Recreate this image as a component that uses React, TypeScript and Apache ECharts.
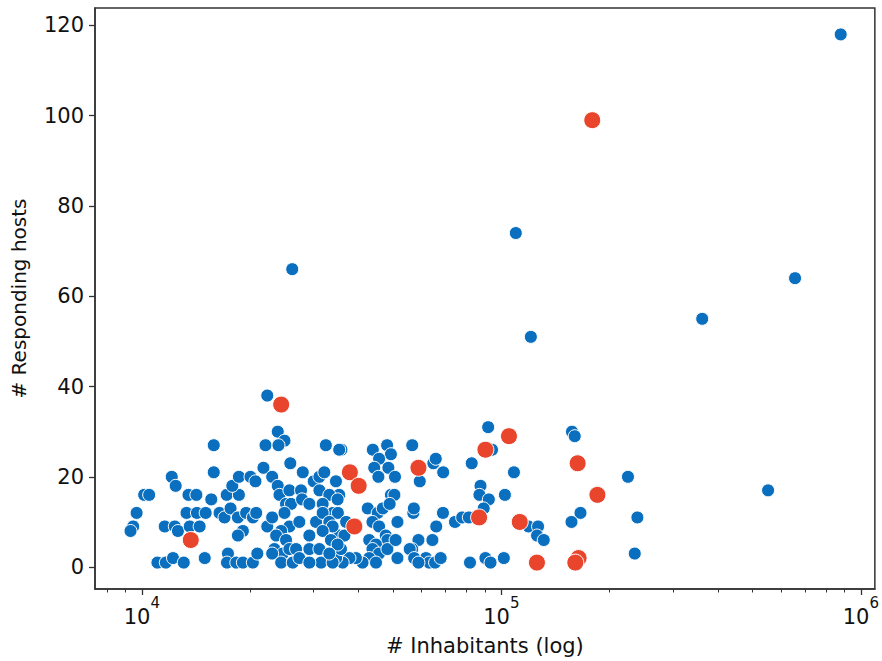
import React, { useEffect, useRef } from "react";
import * as echarts from "echarts";

const bluePopulation = [
  879000, 109700, 26200, 120800, 362000, 656000, 552000,
  157200, 160000, 225000, 166000, 156700, 239000, 235000,
  91900, 94200, 35900, 43900, 48100, 49300, 45700, 44300, 48500, 45500, 50600, 56500, 59300, 64700, 65700, 68900,
  82700, 108400, 87500, 86900, 92300, 102300, 89300, 74300, 77800, 81200, 119000, 126500, 125700, 131200,
  81800, 90300, 93300, 101600, 68800, 65900, 64300, 58800, 56500, 55600, 61700, 63000, 65400, 67800, 57200, 58800,
  51400, 49300, 56900, 57100, 42500, 45300, 46800, 43800, 45700, 47700, 48200, 42900, 44800, 43800, 45700, 48200,
  50800, 51400, 42900, 44800, 41100, 39400, 37800, 36200, 34700, 50400, 48900, 35400, 34000, 35100, 35400, 37000,
  35800, 36600,
  22330, 23880, 24930, 22080, 23990, 15850, 32500, 35400, 15850, 12110, 12420, 10150, 10480, 9670, 9460, 9300,
  11580, 12350, 12600, 11050, 11660, 12210, 13080, 14960, 13310, 14230, 15050, 13480, 14180, 13590, 14480, 15600,
  16450, 16980, 17650, 17220, 18620, 17850, 18620, 20050, 20700, 21790, 23040, 18500, 19500, 20370, 20800, 19100,
  18500, 17360, 17250, 18310, 19100, 20360, 20950, 22330, 23040, 23880, 24150, 25730, 25180, 26000, 27720, 27900,
  29240, 25880, 28030, 30070, 31180, 32180, 34670, 31180, 33230, 31840, 35040, 24930, 25730, 27420, 24410, 23640,
  25180, 23380, 24660, 25730, 26850, 23040, 24410, 26290, 27420, 29240, 29240, 31180, 30520, 31840, 33230, 33940,
  31840, 33570, 35040, 31520, 33940, 33230, 29240,
];
const blueHosts = [
  118, 74, 66, 51, 55, 64, 17,
  30, 29, 20, 12, 10, 11, 3,
  31, 26, 26, 26, 27, 25, 24, 22, 22, 20, 20, 27, 19, 23, 24, 21,
  23, 21, 18, 16, 15, 16, 13, 10, 11, 11, 9, 9, 7, 6,
  1, 2, 1, 2, 12, 9, 6, 6, 4, 4, 2, 1, 1, 2, 2, 1,
  10, 16, 12, 13, 13, 12, 13, 10, 9, 7, 6, 6, 5, 4, 3, 4,
  6, 2, 2, 1, 1, 2, 2, 1, 2, 16, 14, 16, 12, 12, 7, 10,
  4, 7,
  38, 30, 28, 27, 27, 27, 27, 26, 21, 20, 18, 16, 16, 12, 9, 8,
  9, 9, 8, 1, 1, 2, 1, 2, 12, 12, 12, 16, 16, 9, 9, 15,
  12, 11, 13, 16, 16, 18, 20, 20, 19, 22, 20, 11, 12, 11, 12, 8,
  7, 3, 1, 1, 1, 1, 3, 9, 11, 18, 16, 17, 14, 14, 17, 15,
  14, 23, 21, 19, 20, 21, 19, 17, 16, 14, 15, 12, 9, 10, 8, 7,
  6, 4, 3, 4, 4, 3, 1, 1, 2, 7, 4, 4, 10, 12, 10, 9,
  8, 6, 5, 1, 1, 3, 1,
];
const redPopulation = [13680, 24410, 37900, 40100, 39000, 58800, 90300, 105000, 86700, 112500, 125600, 163000, 185000, 164000, 160600, 179000];
const redHosts = [6, 36, 21, 18, 9, 22, 26, 29, 11, 10, 1, 23, 16, 2, 1, 99];

const yTickValues = [0, 20, 40, 60, 80, 100, 120];
const xMajorTickValues = [10000, 100000, 1000000];
const xMinorTickValues = [
  8000, 9000, 20000, 30000, 40000, 50000, 60000, 70000, 80000, 90000,
  200000, 300000, 400000, 500000, 600000, 700000, 800000, 900000,
];

const X_MIN = 7408;
const X_MAX = 1093700;
const Y_MIN = -4.85;
const Y_MAX = 123.85;

const FONT = "DejaVu Sans";
const AXIS_COLOR = "#333333";
const BLUE = "#0a6fbf";
const RED = "#e8452c";

export default function App() {
  const ref = useRef<HTMLDivElement>(null);
  useEffect(() => {
    const chart = echarts.init(ref.current as HTMLDivElement, null, { renderer: "svg" });
    const blueData = bluePopulation.map((p, i) => [p, blueHosts[i]]);
    const redData = redPopulation.map((p, i) => [p, redHosts[i]]);
    chart.setOption({
      animation: false,
      backgroundColor: "#ffffff",
      grid: {
        left: 95,
        right: 5,
        top: 8,
        bottom: 69,
        show: true,
        borderColor: AXIS_COLOR,
        borderWidth: 1.5,
        backgroundColor: "transparent",
      },
      xAxis: [
        {
          type: "log",
          logBase: 10,
          min: X_MIN,
          max: X_MAX,
          name: "# Inhabitants (log)",
          nameLocation: "middle",
          nameGap: 46,
          nameTextStyle: { fontFamily: FONT, fontSize: 21, color: "#111" },
          axisLine: { show: true, onZero: false, lineStyle: { color: AXIS_COLOR, width: 1.5 } },
          axisTick: {
            show: true,
            length: 6,
            customValues: xMajorTickValues,
            lineStyle: { color: AXIS_COLOR, width: 1.3 },
          },
          axisLabel: {
            customValues: xMajorTickValues,
            margin: 6,
            formatter: (v: number) => `{b|10}{s|${Math.round(Math.log10(v))}}`,
            rich: {
              b: { fontFamily: FONT, fontSize: 21, color: "#111", lineHeight: 32, verticalAlign: "bottom" },
              s: { fontFamily: FONT, fontSize: 15, color: "#111", lineHeight: 14, verticalAlign: "top" },
            },
          },
          splitLine: { show: false },
          minorTick: { show: false },
        },
        {
          type: "log",
          logBase: 10,
          min: X_MIN,
          max: X_MAX,
          position: "bottom",
          axisLine: { show: false, onZero: false },
          axisTick: {
            show: true,
            length: 3.5,
            customValues: xMinorTickValues,
            lineStyle: { color: AXIS_COLOR, width: 1 },
          },
          axisLabel: { show: false },
          splitLine: { show: false },
        },
      ],
      yAxis: {
        type: "value",
        min: Y_MIN,
        max: Y_MAX,
        name: "# Responding hosts",
        nameLocation: "middle",
        nameGap: 66,
        nameTextStyle: { fontFamily: FONT, fontSize: 20, color: "#111" },
        axisLine: { show: true, onZero: false, lineStyle: { color: AXIS_COLOR, width: 1.5 } },
        axisTick: {
          show: true,
          length: 6,
          customValues: yTickValues,
          lineStyle: { color: AXIS_COLOR, width: 1.3 },
        },
        axisLabel: {
          customValues: yTickValues,
          margin: 11,
          fontFamily: FONT,
          fontSize: 21,
          color: "#111",
        },
        splitLine: { show: false },
      },
      series: [
        {
          type: "scatter",
          xAxisIndex: 0,
          data: blueData,
          symbol: "circle",
          symbolSize: 13,
          itemStyle: { color: BLUE, borderColor: "#ffffff", borderWidth: 1, opacity: 1 },
          z: 2,
        },
        {
          type: "scatter",
          xAxisIndex: 0,
          data: redData,
          symbol: "circle",
          symbolSize: 17,
          itemStyle: { color: RED, borderColor: "#ffffff", borderWidth: 1, opacity: 1 },
          z: 3,
        },
      ],
    });
    return () => chart.dispose();
  }, []);
  return (
    <div
      ref={ref}
      style={{ position: "absolute", left: 0, top: 0, width: 882, height: 661, background: "#fff" }}
    />
  );
}
